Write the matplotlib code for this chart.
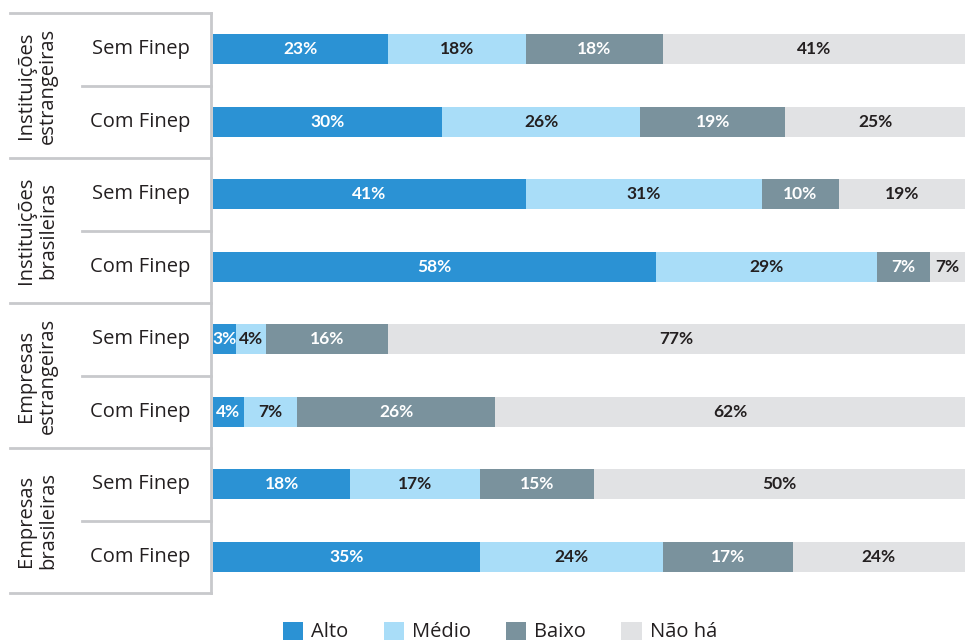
import matplotlib
matplotlib.use("Agg")
import matplotlib.pyplot as plt
import matplotlib.transforms as mtransforms
from matplotlib.patches import Patch

# -----------------------------------------
# DATA
# -----------------------------------------

groups = ["Instituições\nestrangeiras", "Instituições\nbrasileiras",
          "Empresas\nestrangeiras", "Empresas\nbrasileiras"]
rows = ["Sem Finep", "Com Finep"] * 4
series = ["Alto", "Médio", "Baixo", "Não há"]

alto = [23, 30, 41, 58, 3, 4, 18, 35]
medio = [18, 26, 31, 29, 4, 7, 17, 24]
baixo = [18, 19, 10, 7, 16, 26, 15, 17]
nao_ha = [41, 25, 19, 7, 77, 62, 50, 24]

colors = ["#2B92D4", "#A9DDF8", "#7A929D", "#E1E2E4"]
label_colors = ["white", "#231F20", "white", "#231F20"]
dark = "#231F20"
line_col = "#C8C9CC"

plt.rcParams["font.family"] = ["Open Sans", "DejaVu Sans"]

W, H = 965, 641
fig = plt.figure(figsize=(W / 100, H / 100), dpi=100)
ax = fig.add_axes([213 / W, (H - 593) / H, (W - 213) / W, 580 / H])

xmax = 98.56
ax.set_xlim(0, xmax)
ax.set_ylim(7.5, -0.5)
ax.axis("off")

# -----------------------------------------
# BARS
# -----------------------------------------

ypos = list(range(len(rows)))
left = [0] * len(rows)
for vals, c, lc, name in zip([alto, medio, baixo, nao_ha], colors, label_colors, series):
    ax.barh(ypos, vals, left=left, height=0.41, color=c, label=name)
    for i, v in enumerate(vals):
        a = left[i]
        b = min(a + v, xmax)
        ax.text((a + b) / 2, i, f"{v}%", ha="center", va="center",
                color=lc, fontsize=12.5, fontweight="bold",
                family=["Lato", "DejaVu Sans"])
    left = [l + v for l, v in zip(left, vals)]

# -----------------------------------------
# LEFT TABLE
# -----------------------------------------

tr = mtransforms.blended_transform_factory(fig.transFigure, ax.transData)
x_left, x_sub, x_right = 10 / W, 82 / W, 211 / W

for y in [-0.5, 1.5, 3.5, 5.5, 7.5]:
    ax.plot([x_left, x_right], [y, y], color=line_col, lw=2, transform=tr, clip_on=False)
for y in [0.5, 2.5, 4.5, 6.5]:
    ax.plot([x_sub, x_right], [y, y], color=line_col, lw=2, transform=tr, clip_on=False)
ax.plot([x_right, x_right], [-0.5, 7.5], color=line_col, lw=2, transform=tr, clip_on=False)

for i, r in enumerate(rows):
    ax.text(190 / W, i, r, ha="right", va="center", fontsize=14.5, color=dark, transform=tr)

for g, name in enumerate(groups):
    ax.text(37 / W, 2 * g + 0.5, name, ha="center", va="center", rotation=90,
            fontsize=14.5, color=dark, transform=tr, linespacing=1.15)

# -----------------------------------------
# LEGEND
# -----------------------------------------

handles = [Patch(facecolor=c, label=s) for c, s in zip(colors, series)]
fig.legend(handles=handles, loc="center", bbox_to_anchor=(0.518, 0.014), ncol=4,
           frameon=False, fontsize=14.5, handlelength=1.0, handleheight=1.0,
           handletextpad=0.4, columnspacing=1.75, labelcolor=dark)

fig.savefig("out.png", dpi=100)
